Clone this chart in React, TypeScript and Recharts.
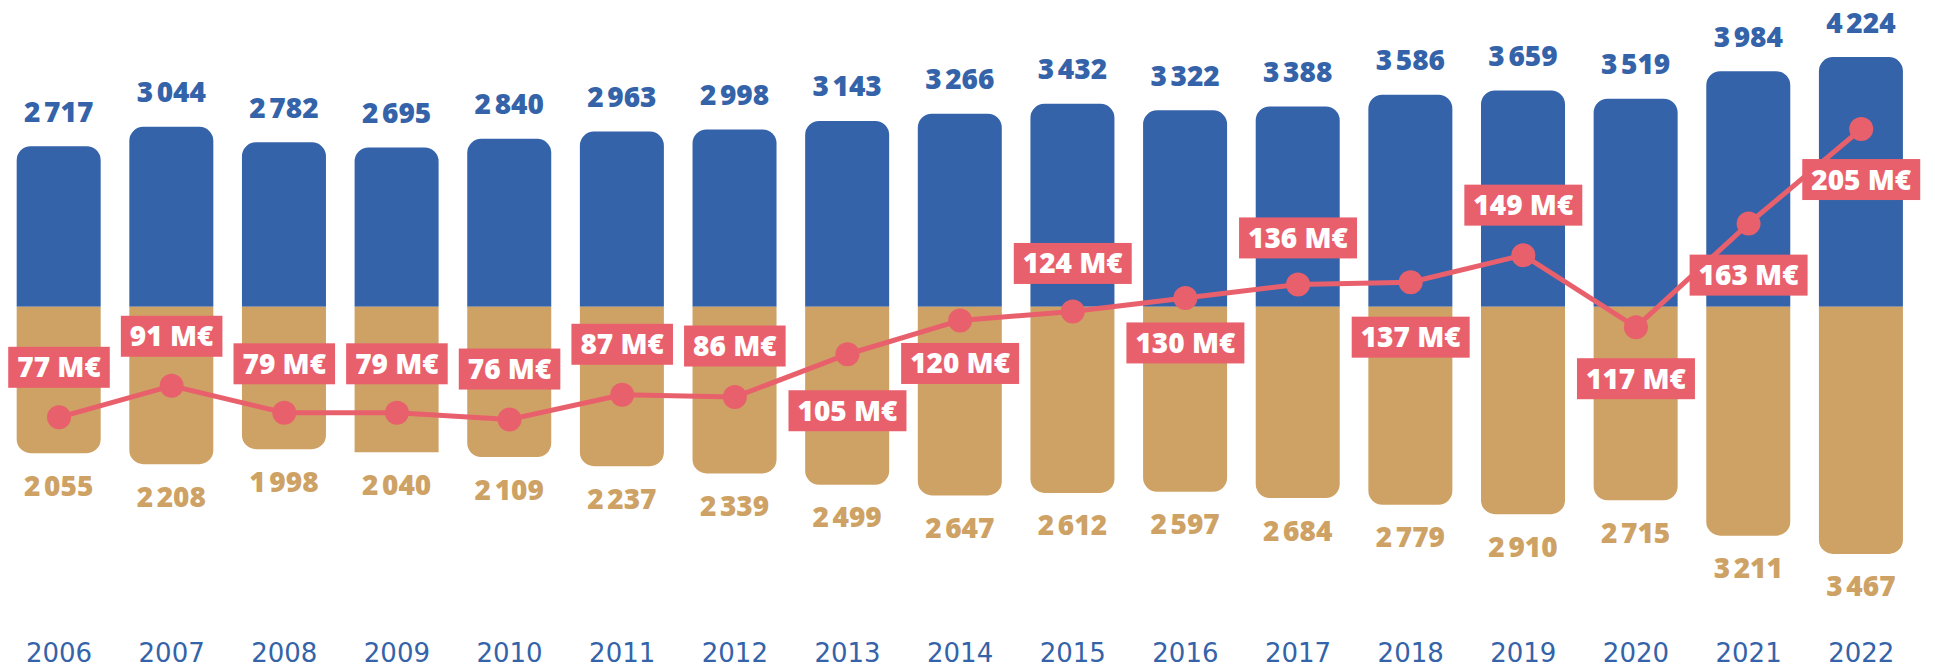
import React from 'react';
import { ComposedChart, Bar, Line, XAxis, YAxis, LabelList, Rectangle } from 'recharts';

const years = ['2006', '2007', '2008', '2009', '2010', '2011', '2012', '2013', '2014', '2015', '2016', '2017', '2018', '2019', '2020', '2021', '2022'];
const blueValues = [2717, 3044, 2782, 2695, 2840, 2963, 2998, 3143, 3266, 3432, 3322, 3388, 3586, 3659, 3519, 3984, 4224];
const goldValues = [2055, 2208, 1998, 2040, 2109, 2237, 2339, 2499, 2647, 2612, 2597, 2684, 2779, 2910, 2715, 3211, 3467];
const lineValues = [77, 91, 79, 79, 76, 87, 86, 105, 120, 124, 130, 136, 137, 149, 117, 163, 205];

// styling: vertical offset of each line label box centre from its point
const LABEL_DY = [-50, -49.5, -49, -49, -50.5, -50.5, -51, 56.5, 43, -48, 45, -46.5, 55, -50, 51.5, 51.5, 50.5];
const SQUARE_GOLD = ['2009'];

const BLUE = '#3463A9';
const GOLD = '#CEA264';
const RED = '#E9606D';
const BOLD_FONT = '"Open Sans", Inter, sans-serif';
const BOLD_SIZE = 28;

const data = years.map((year, i) => ({ year, blue: blueValues[i], gold: goldValues[i], margin: lineValues[i] }));

const fmt = (v: number) => {
  const s = String(v);
  return s.length > 3 ? s.slice(0, -3) + '\u202F' + s.slice(-3) : s;
};

let ctx: CanvasRenderingContext2D | null = null;
const measure = (t: string) => {
  if (!ctx) ctx = document.createElement('canvas').getContext('2d');
  if (!ctx) return t.length * 16;
  ctx.font = `800 ${BOLD_SIZE}px ${BOLD_FONT}`;
  return ctx.measureText(t).width;
};

const makeShape = (side: 'top' | 'bottom') => (props: any) => {
  const { x, y, width, height, payload, fill } = props;
  const top = Math.min(y, y + height);
  const h = Math.abs(height);
  const r = side === 'bottom' && SQUARE_GOLD.includes(payload.year) ? 0 : 14;
  const radius: [number, number, number, number] = side === 'top' ? [r, r, 0, 0] : [0, 0, r, r];
  return <Rectangle x={x} y={top} width={width} height={h} radius={radius} fill={fill} />;
};

const labelStyle = { fontFamily: BOLD_FONT, fontWeight: 800, fontSize: BOLD_SIZE };

const BlueLabel = (props: any) => {
  const { x, y, width, height, value } = props;
  const top = Math.min(y, y + height);
  return (
    <text x={x + width / 2} y={top - 24.5} textAnchor="middle" fill={BLUE} style={labelStyle}>
      {fmt(value)}
    </text>
  );
};

const GoldLabel = (props: any) => {
  const { x, y, width, height, value } = props;
  const bottom = Math.max(y, y + height);
  return (
    <text x={x + width / 2} y={bottom + 42.5} textAnchor="middle" fill={GOLD} style={labelStyle}>
      {fmt(value)}
    </text>
  );
};

const LineLabel = (props: any) => {
  const { x, y, value, index } = props;
  const text = `${value}\u00A0M€`;
  const w = measure(text) + 18;
  const cy = y + (LABEL_DY[index] ?? -50);
  return (
    <g>
      <rect x={x - w / 2} y={cy - 20.5} width={w} height={41} fill={RED} />
      <text x={x} y={cy + 10} textAnchor="middle" fill="#fff" style={labelStyle}>
        {text}
      </text>
    </g>
  );
};

const YearTick = (props: any) => {
  const { x, y, payload } = props;
  return (
    <text x={x} y={y + 25} textAnchor="middle" fill={BLUE}
      style={{ fontFamily: '"DejaVu Sans", sans-serif', fontWeight: 400, fontSize: 26 }}>
      {payload.value}
    </text>
  );
};

export default function App() {
  return (
    <div style={{ position: 'absolute', left: 0, top: 0, width: 1935, height: 667, background: '#fff' }}>
      <ComposedChart width={1935} height={667} data={data}
        margin={{ top: 0, right: 17.44, bottom: 0, left: 2.68 }}>
        <XAxis dataKey="year" height={30} axisLine={false} tickLine={false} tickSize={0} tickMargin={0}
          interval={0} tick={<YearTick />} />
        <YAxis yAxisId="b" hide type="number" domain={[-5588.8, 5189.5]} allowDataOverflow />
        <YAxis yAxisId="g" hide type="number" reversed domain={[-4301.5, 4632.6]} allowDataOverflow />
        <YAxis yAxisId="l" hide type="number" domain={[-20.56, 262.3]} allowDataOverflow />
        <Bar yAxisId="b" dataKey="blue" stackId="s" barSize={84} fill={BLUE} shape={makeShape('top')}
          isAnimationActive={false}>
          <LabelList dataKey="blue" content={<BlueLabel />} />
        </Bar>
        <Bar yAxisId="g" dataKey="gold" stackId="s" barSize={84} fill={GOLD} shape={makeShape('bottom')}
          isAnimationActive={false}>
          <LabelList dataKey="gold" content={<GoldLabel />} />
        </Bar>
        <Line yAxisId="l" dataKey="margin" type="linear" stroke={RED} strokeWidth={5}
          dot={{ r: 12, fill: RED, stroke: RED, strokeWidth: 0 }} activeDot={false}
          isAnimationActive={false}>
          <LabelList dataKey="margin" content={<LineLabel />} />
        </Line>
      </ComposedChart>
    </div>
  );
}
